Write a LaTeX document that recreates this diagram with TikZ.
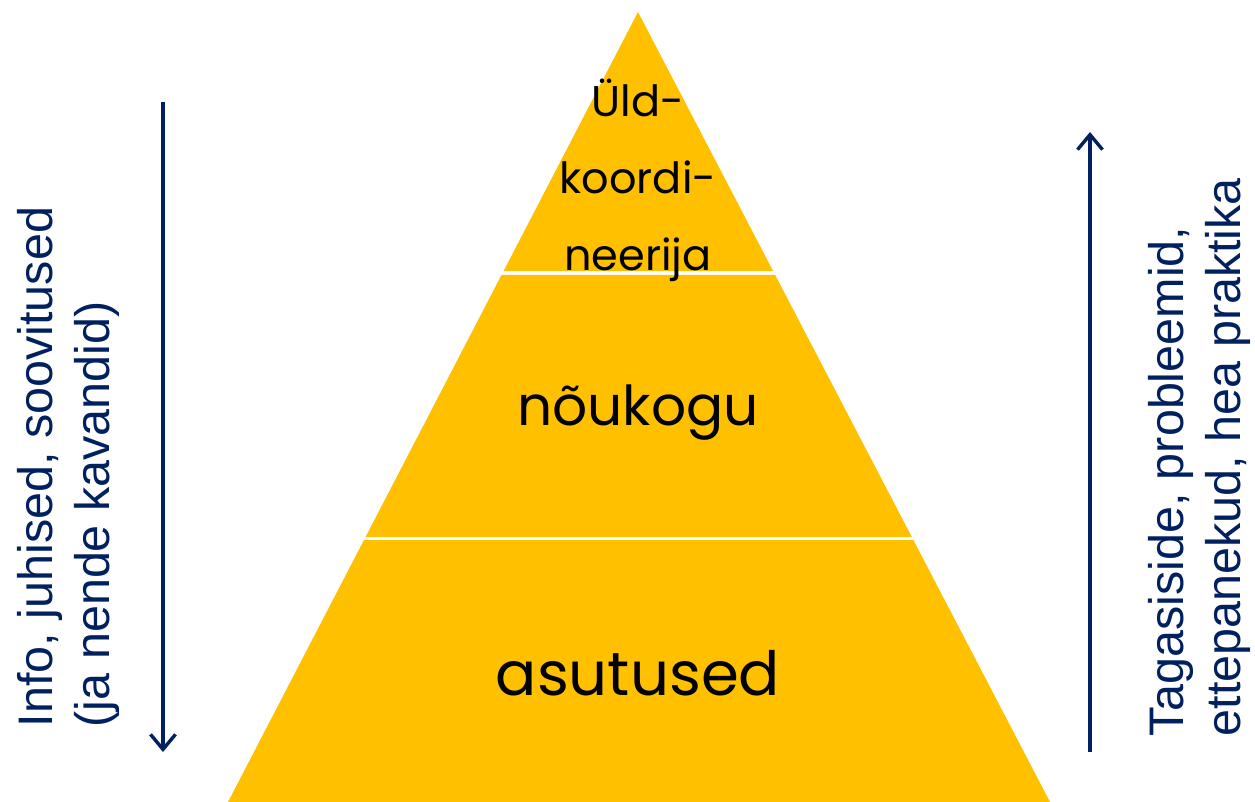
\documentclass[tikz,border=0pt]{standalone}
\usepackage{fontspec}
\setmainfont{Liberation Sans}
\newfontfamily\pyrfont{Poppins}
\usepackage{xcolor}
\usetikzlibrary{arrows.meta,calc,positioning}
\definecolor{layer}{RGB}{255,192,0}
\definecolor{navy}{RGB}{0,32,96}

\begin{document}
\begin{tikzpicture}[
            x=1pt, y=-1pt,
            layer_style/.style={fill=layer, draw=none},
            level_label/.style={font=\pyrfont, text=black, inner sep=0pt, align=center},
            side_label/.style={rotate=90, align=left, text=navy, inner sep=0pt,
                font=\fontsize{48.5}{57}\selectfont},
            arrow_style/.style={-{Straight Barb[length=15pt,width=25pt,line width=3.4pt]}, line width=3.4pt, navy}
        ]
        \useasboundingbox (0,0) rectangle (1255,802);
        % Pyramid corners
        \coordinate (apex) at (638,12);
        \coordinate (bl) at (228,802);
        \coordinate (br) at (1050,802);

        % Three layers, small white gaps between them
        \fill[layer_style] (apex) -- ($(apex)!0.3278!(br)$) -- ($(apex)!0.3278!(bl)$) -- cycle;
        \fill[layer_style] ($(apex)!0.3329!(bl)$) -- ($(apex)!0.3329!(br)$)
            -- ($(apex)!0.6646!(br)$) -- ($(apex)!0.6646!(bl)$) -- cycle;
        \fill[layer_style] ($(apex)!0.6684!(bl)$) -- ($(apex)!0.6684!(br)$) -- (br) -- (bl) -- cycle;

        % Layer labels
        \node[level_label, font=\pyrfont\fontsize{43}{77}\selectfont] (top_lbl) at (638,180) {Üld-\\koordi-\\neerija};
        \node[level_label, font=\pyrfont\fontsize{55}{60}\selectfont, anchor=base] (mid_lbl) at (638,425) {nõukogu};
        \node[level_label, font=\pyrfont\fontsize{61}{64}\selectfont, anchor=base] (low_lbl) at (638,695) {asutused};

        % Side arrows
        \coordinate (down_start) at (163,102);
        \coordinate (down_end) at (163,752);
        \coordinate (up_start) at (1090,752);
        \coordinate (up_end) at (1090,132);
        \draw[arrow_style] (down_start) -- (down_end);
        \draw[arrow_style] (up_start) -- (up_end);

        % Side texts
        \node[side_label] (down_lbl) at (68,467) {Info, juhised, soovitused\\(ja nende kavandid)};
        \node[side_label] (up_lbl) at (1199,457) {Tagasiside, probleemid,\\ettepanekud, hea praktika};
        \end{tikzpicture}
\end{document}
